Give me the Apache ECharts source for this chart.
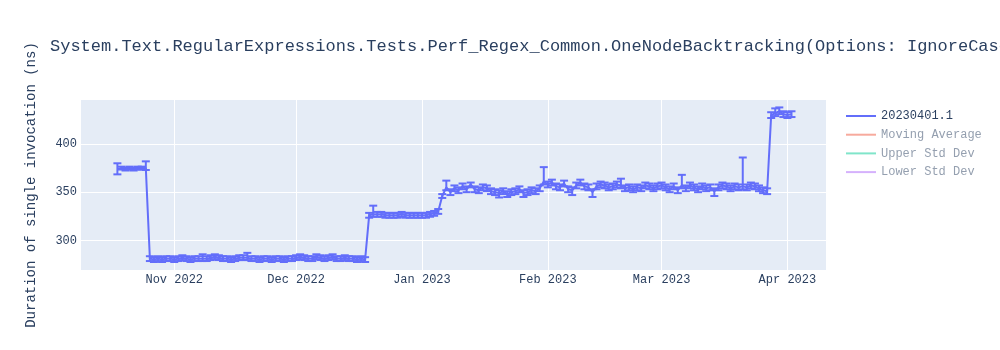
<!DOCTYPE html>
<html>
<head>
<meta charset="utf-8">
<script src="https://cdn.jsdelivr.net/npm/echarts@6/dist/echarts.min.js"></script>
<style>html,body{margin:0;padding:0;background:#fff;}#c{width:1000px;height:350px;}</style>
</head>
<body>
<div id="c"></div>
<script>
// ---- data ----
const titleText = 'System.Text.RegularExpressions.Tests.Perf_Regex_Common.OneNodeBacktracking(Options: IgnoreCase, Compiled)';
const yAxisTitle = 'Duration of single invocation (ns)';
const seriesName = '20230401.1';
const extraNames = ['Moving Average', 'Upper Std Dev', 'Lower Std Dev'];

const dates = [
  '2022-10-18','2022-10-19','2022-10-20','2022-10-21','2022-10-22','2022-10-23','2022-10-24','2022-10-25','2022-10-26','2022-10-27','2022-10-28','2022-10-29','2022-10-30','2022-10-31',
  '2022-11-01','2022-11-02','2022-11-03','2022-11-04','2022-11-05','2022-11-06','2022-11-07','2022-11-08','2022-11-09','2022-11-10',
  '2022-11-11','2022-11-12','2022-11-13','2022-11-14','2022-11-15','2022-11-16','2022-11-17','2022-11-18','2022-11-19','2022-11-20',
  '2022-11-21','2022-11-22','2022-11-23','2022-11-24','2022-11-25','2022-11-26','2022-11-27','2022-11-28','2022-11-29','2022-11-30',
  '2022-12-01','2022-12-02','2022-12-03','2022-12-04','2022-12-05','2022-12-06','2022-12-07','2022-12-08','2022-12-09','2022-12-10',
  '2022-12-11','2022-12-12','2022-12-13','2022-12-14','2022-12-15','2022-12-16','2022-12-17','2022-12-18','2022-12-19','2022-12-20',
  '2022-12-21','2022-12-22','2022-12-23','2022-12-24','2022-12-25','2022-12-26','2022-12-27','2022-12-28','2022-12-29','2022-12-30','2022-12-31',
  '2023-01-01','2023-01-02','2023-01-03','2023-01-04','2023-01-05','2023-01-06','2023-01-07','2023-01-08','2023-01-09','2023-01-10',
  '2023-01-11','2023-01-12','2023-01-13','2023-01-14','2023-01-15','2023-01-16','2023-01-17','2023-01-18','2023-01-19','2023-01-20',
  '2023-01-21','2023-01-22','2023-01-23','2023-01-24','2023-01-25','2023-01-26','2023-01-27','2023-01-28','2023-01-29','2023-01-30','2023-01-31',
  '2023-02-01','2023-02-02','2023-02-03','2023-02-04','2023-02-05','2023-02-06','2023-02-07','2023-02-08','2023-02-09','2023-02-10',
  '2023-02-11','2023-02-12','2023-02-13','2023-02-14','2023-02-15','2023-02-16','2023-02-17','2023-02-18','2023-02-19','2023-02-20',
  '2023-02-21','2023-02-22','2023-02-23','2023-02-24','2023-02-25','2023-02-26','2023-02-27','2023-02-28',
  '2023-03-01','2023-03-02','2023-03-03','2023-03-04','2023-03-05','2023-03-06','2023-03-07','2023-03-08','2023-03-09','2023-03-10',
  '2023-03-11','2023-03-12','2023-03-13','2023-03-14','2023-03-15','2023-03-16','2023-03-17','2023-03-18','2023-03-19','2023-03-20',
  '2023-03-21','2023-03-22','2023-03-23','2023-03-24','2023-03-25','2023-03-26','2023-03-27','2023-03-28','2023-03-29','2023-03-30','2023-03-31',
  '2023-04-01','2023-04-02'
];

const values = [
  374,375,374,375,374,375,375,375,281,280,281,280,281,281,
  280,281,282,281,280,281,281,281,281,282,
  283,282,281,281,280,281,282,282,282,281,
  281,280,281,281,280,281,281,280,281,281,
  282,283,282,281,281,283,282,281,282,283,
  281,281,282,281,281,280,281,280,326,327,
  327,327,326,326,326,326,327,326,326,326,326,
  326,326,327,328,330,346,355,350,354,352,
  356,353,358,353,352,355,354,351,350,349,
  351,348,350,351,353,349,350,352,351,354,361,
  358,360,356,355,359,353,352,357,360,356,
  355,350,356,358,357,355,356,358,357,354,
  355,353,355,354,357,356,354,356,
  357,355,353,356,352,357,354,357,355,353,
  356,354,355,351,355,357,356,354,356,355,
  356,355,357,356,354,352,351,430,432,434,431,
  430,431
];

const errUp = [
  6,1.5,1.5,1.5,1.5,1.5,1.5,7,2.5,2.5,2.5,2.5,2.5,2.5,
  2.5,2.5,2.5,2.5,2.5,2.5,2.5,4.5,2.5,2.5,
  2.5,2.5,2.5,2.5,2.5,2.5,2.5,2.5,5,2.5,
  2.5,2.5,2.5,2.5,2.5,2.5,2.5,2.5,2.5,2.5,
  2.5,2.5,2.5,2.5,2.5,2.5,2.5,2.5,2.5,2.5,
  2.5,2.5,2.5,2.5,2.5,2.5,2.5,2.5,2.5,9,
  2.5,2.5,2.5,2.5,2.5,2.5,2.5,2.5,2.5,2.5,2.5,
  2.5,2.5,2.5,2.5,2.5,2,7,3,3,3,
  3,3,2,3,3,3,3,3,3,3,
  3,3,3,3,3,3,3,3,3,3,15,
  3,3,3,3,3,3,3,3,3,3,
  3,3,3,3,3,3,3,3,7,3,
  3,3,3,3,3,3,3,3,
  3,3,3,3,3,11,3,3,3,3,
  3,3,3,3,3,3,3,3,3,3,
  30,3,3,3,3,3,3,3,5,4,3,
  3,3
];

const errDown = [
  5.5,1.5,1.5,1.5,1.5,1.5,1.5,2,2.5,2.5,2.5,2.5,2.5,2.5,
  2.5,2.5,2.5,2.5,2.5,2.5,2.5,2.5,2.5,2.5,
  2.5,2.5,2.5,2.5,2.5,2.5,2.5,2.5,2.5,2.5,
  2.5,2.5,2.5,2.5,2.5,2.5,2.5,2.5,2.5,2.5,
  2.5,2.5,2.5,2.5,2.5,2.5,2.5,2.5,2.5,2.5,
  2.5,2.5,2.5,2.5,2.5,2.5,2.5,2.5,2.5,2.5,
  2.5,2.5,2.5,2.5,2.5,2.5,2.5,2.5,2.5,2.5,2.5,
  2.5,2.5,2.5,2.5,2.5,2,3,3,3,3,
  3,3,3,3,3,3,3,3,3,4.5,
  3,3,3,3,3,4,3,3,3,3,3,
  3,3,3,3,3,3,5,3,3,3,
  3,5,3,3,3,3,3,3,3,3,
  3,3,3,3,3,3,3,3,
  3,3,3,3,3,3,3,3,3,3,
  3,3,3,5,3,3,3,3,3,3,
  3,3,3,3,3,3,3,3,3,3,3,
  3,3
];

const monthNames = ['Jan','Feb','Mar','Apr','May','Jun','Jul','Aug','Sep','Oct','Nov','Dec'];
const yTicks = [300, 350, 400];

// ---- chart ----
function localTs(s) {
  const p = s.split(/[- :]/).map(Number);
  return new Date(p[0], p[1] - 1, p[2], p[3] || 0, p[4] || 0).getTime();
}
const DAY = 24 * 3600 * 1000;
const FONT = '"Liberation Mono", "Courier New", monospace';
const TXT = '#2a3f5f';
const MAIN = '#636efa';

const chart = echarts.init(document.getElementById('c'), null, {renderer: 'canvas'});
chart.setOption({
  animation: false,
  backgroundColor: '#ffffff',
  title: {
    text: titleText, left: 45, top: 33,
    textStyle: {fontFamily: FONT, fontSize: 17, fontWeight: 'normal', color: TXT}
  },
  legend: {
    orient: 'vertical', left: 841, top: 105,
    icon: 'rect', itemWidth: 30, itemHeight: 2, itemGap: 6.7,
    textStyle: {fontFamily: FONT, fontSize: 12, color: TXT},
    data: [
      {name: seriesName, itemStyle: {color: MAIN}},
      {name: extraNames[0], itemStyle: {color: '#f7aa9d'}, textStyle: {color: '#949faf'}},
      {name: extraNames[1], itemStyle: {color: '#80e5ca'}, textStyle: {color: '#949faf'}},
      {name: extraNames[2], itemStyle: {color: '#d5b1fc'}, textStyle: {color: '#949faf'}}
    ]
  },
  grid: {left: 80, right: 174, top: 100, bottom: 80, show: true, backgroundColor: '#e5ecf6', borderWidth: 0},
  xAxis: {
    type: 'time',
    min: localTs('2022-10-08 19:00'),
    max: localTs('2023-04-10 12:00'),
    minInterval: 28 * DAY, maxInterval: 31 * DAY,
    splitNumber: 6,
    axisLine: {show: false},
    axisTick: {show: false},
    splitLine: {show: true, lineStyle: {color: '#ffffff', width: 1}},
    axisLabel: {
      margin: 4, hideOverlap: false,
      fontFamily: FONT, fontSize: 12, color: TXT,
      formatter: function (v) {
        const d = new Date(v);
        return monthNames[d.getMonth()] + ' ' + d.getFullYear();
      }
    }
  },
  yAxis: {
    type: 'value',
    min: 269.2, max: 445.7,
    name: yAxisTitle, nameLocation: 'middle', nameGap: 42,
    nameTextStyle: {fontFamily: FONT, fontSize: 14, color: TXT},
    axisLine: {show: false},
    axisTick: {show: false, customValues: yTicks},
    splitLine: {show: true, lineStyle: {color: '#ffffff', width: 1}},
    axisLabel: {customValues: yTicks, margin: 3, fontFamily: FONT, fontSize: 12, color: TXT}
  },
  series: [
    {
      name: seriesName, type: 'line', color: MAIN,
      showSymbol: false, symbol: 'none',
      lineStyle: {color: MAIN, width: 2},
      data: dates.map((d, i) => [d, values[i]]),
      z: 3
    },
    {
      name: 'errorbars', type: 'custom', z: 4,
      encode: {x: 0, y: 1},
      renderItem: function (params, api) {
        const x = api.value(0), v = api.value(1), up = api.value(2), dn = api.value(3);
        const t = api.coord([x, v + up]);
        const b = api.coord([x, v - dn]);
        const w = 4;
        const st = {stroke: MAIN, lineWidth: 2};
        return {type: 'group', children: [
          {type: 'line', shape: {x1: t[0], y1: t[1], x2: b[0], y2: b[1]}, style: st},
          {type: 'line', shape: {x1: t[0] - w, y1: t[1], x2: t[0] + w, y2: t[1]}, style: st},
          {type: 'line', shape: {x1: b[0] - w, y1: b[1], x2: b[0] + w, y2: b[1]}, style: st}
        ]};
      },
      data: dates.map((d, i) => [d, values[i], errUp[i], errDown[i]])
    },
    {name: extraNames[0], type: 'line', color: '#f7aa9d', data: []},
    {name: extraNames[1], type: 'line', color: '#80e5ca', data: []},
    {name: extraNames[2], type: 'line', color: '#d5b1fc', data: []}
  ]
});
</script>
</body>
</html>
